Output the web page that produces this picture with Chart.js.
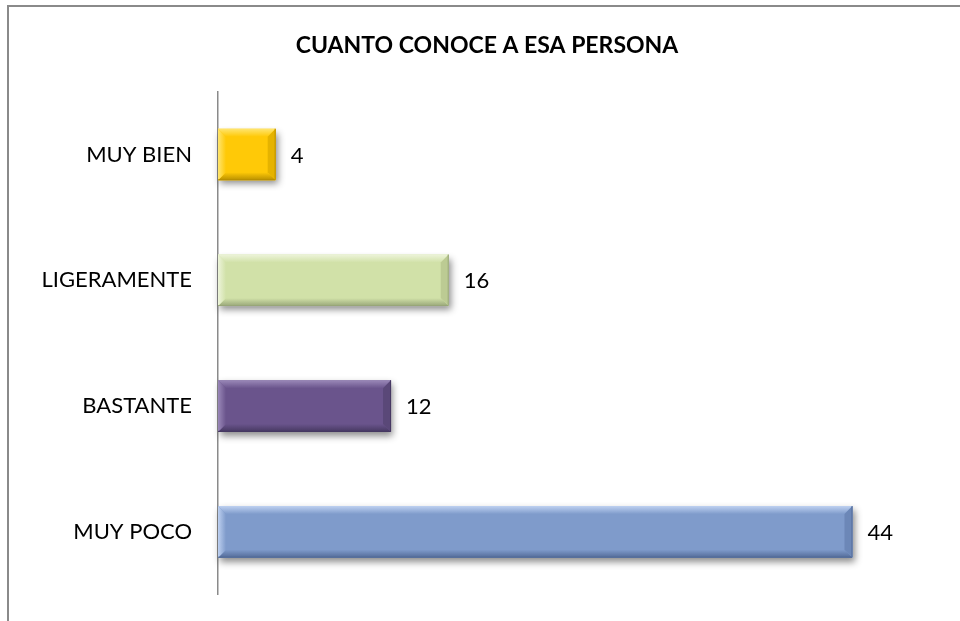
<!DOCTYPE html>
<html>
<head>
<meta charset="utf-8">
<script src="https://cdn.jsdelivr.net/npm/chart.js@4/dist/chart.umd.min.js"></script>
<style>
  html, body { margin: 0; padding: 0; background: #fff; overflow: hidden; }
  #frame {
    position: absolute; left: 7px; top: 5px;
    width: 990px; height: 640px;
    border-top: 2px solid #8a8a8a; border-left: 2px solid #8a8a8a;
  }
  #chart { display: block; }
</style>
</head>
<body>
<div id="frame"><canvas id="chart" width="956" height="627"></canvas></div>
<script>
// categories top to bottom
const categories = ['MUY BIEN', 'LIGERAMENTE', 'BASTANTE', 'MUY POCO']
const values = [4, 16, 12, 44]

// fill / bevel tones per bar
const baseColors = ['#FFC907', '#D1E1A8', '#6A548C', '#7F9BCB']
const lightColors = ['#FFE570', '#EDF4DA', '#9A88B8', '#BDD0F0']
const darkColors = ['#B88F00', '#98A678', '#463861', '#526A97']
const sideColors = ['#E5B300', '#BCCB93', '#5A4878', '#6C87B7']

const FONT = 'Lato, "Liberation Sans", sans-serif'
const BEVEL = 8

function barBox(el) {
  const h = el.height
  return { l: el.base, r: el.x, t: el.y - h / 2, b: el.y + h / 2 }
}

function poly(ctx, pts, fill) {
  ctx.beginPath()
  ctx.moveTo(pts[0][0], pts[0][1])
  for (let i = 1; i < pts.length; i++) ctx.lineTo(pts[i][0], pts[i][1])
  ctx.closePath()
  ctx.fillStyle = fill
  ctx.fill()
}

// soft shadow under the bars, bevel edges on top, value labels at the end
const bevelBars = {
  id: 'bevelBars',
  beforeDatasetsDraw(chart) {
    const ctx = chart.ctx
    const meta = chart.getDatasetMeta(0)
    ctx.save()
    meta.data.forEach((el) => {
      const { l, r, t, b } = barBox(el)
      ctx.shadowColor = 'rgba(0,0,0,0.45)'
      ctx.shadowBlur = 7
      ctx.shadowOffsetX = 2
      ctx.shadowOffsetY = 4
      ctx.fillStyle = '#fff'
      ctx.fillRect(l, t, r - l, b - t)
    })
    ctx.restore()
  },
  afterDatasetsDraw(chart) {
    const ctx = chart.ctx
    const meta = chart.getDatasetMeta(0)
    ctx.save()
    meta.data.forEach((el, i) => {
      const { l, r, t, b } = barBox(el)
      const e = Math.min(BEVEL, (r - l) / 2, (b - t) / 2)

      const gTop = ctx.createLinearGradient(0, t, 0, t + e)
      gTop.addColorStop(0, lightColors[i])
      gTop.addColorStop(1, baseColors[i])
      poly(ctx, [[l, t], [r, t], [r - e, t + e], [l + e, t + e]], gTop)

      const gBot = ctx.createLinearGradient(0, b - e, 0, b)
      gBot.addColorStop(0, baseColors[i])
      gBot.addColorStop(1, darkColors[i])
      poly(ctx, [[l, b], [r, b], [r - e, b - e], [l + e, b - e]], gBot)

      poly(ctx, [[r, t], [r, b], [r - e, b - e], [r - e, t + e]], sideColors[i])

      const gLeft = ctx.createLinearGradient(l, 0, l + e, 0)
      gLeft.addColorStop(0, lightColors[i])
      gLeft.addColorStop(1, baseColors[i])
      poly(ctx, [[l, t], [l, b], [l + e, b - e], [l + e, t + e]], gLeft)

      ctx.strokeStyle = darkColors[i]
      ctx.lineWidth = 1
      ctx.beginPath()
      ctx.moveTo(r - 0.5, t)
      ctx.lineTo(r - 0.5, b - 0.5)
      ctx.lineTo(l, b - 0.5)
      ctx.stroke()

      ctx.fillStyle = '#000'
      ctx.font = '22px ' + FONT
      ctx.textAlign = 'left'
      ctx.textBaseline = 'middle'
      ctx.fillText(String(values[i]), r + 15, el.y + 1)
    })
    ctx.restore()
  },
}

new Chart(document.getElementById('chart'), {
  type: 'bar',
  data: {
    labels: categories,
    datasets: [
      {
        data: values,
        backgroundColor: baseColors,
        borderWidth: 0,
        categoryPercentage: 1,
        barPercentage: 0.41,
      },
    ],
  },
  options: {
    indexAxis: 'y',
    responsive: false,
    animation: false,
    events: [],
    layout: { padding: 0 },
    plugins: {
      legend: { display: false },
      tooltip: { enabled: false },
      title: {
        display: true,
        text: 'CUANTO CONOCE A ESA PERSONA',
        color: '#000',
        font: { family: FONT, size: 23, weight: 'bold' },
        padding: { top: 25, bottom: 32 },
      },
    },
    scales: {
      x: {
        display: false,
        min: 0,
        max: 51.8,
      },
      y: {
        afterFit(scale) {
          scale.width = 209
        },
        grid: { display: false, drawTicks: false },
        border: { display: true, color: '#8a8a8a', width: 1.5 },
        ticks: {
          color: '#000',
          padding: 26,
          font: { family: FONT, size: 22 },
        },
      },
    },
  },
  plugins: [bevelBars],
})
</script>
</body>
</html>
